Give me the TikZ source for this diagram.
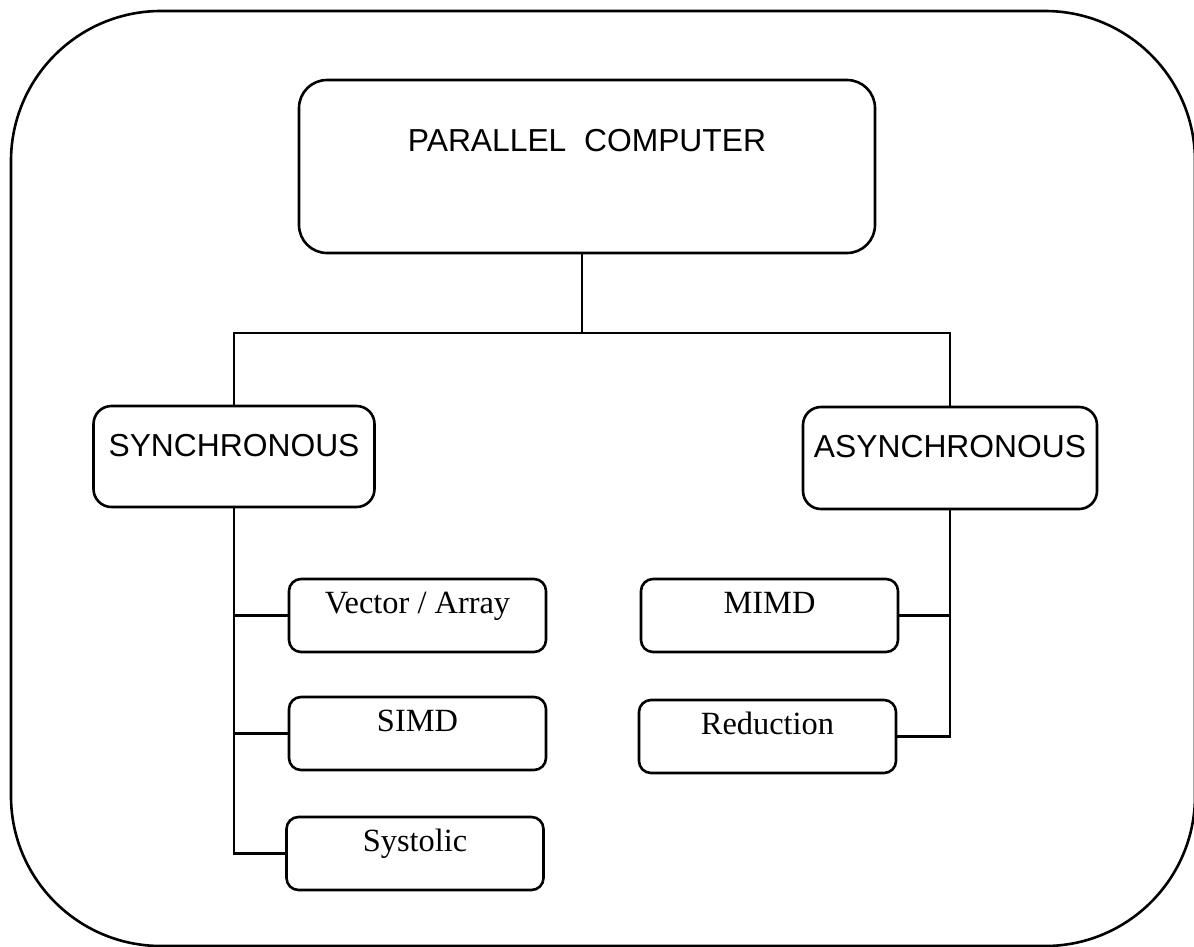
\documentclass[tikz,border=0pt]{standalone}
\usepackage{fontspec}
\setmainfont{Liberation Serif}
\setsansfont{Liberation Sans}

\begin{document}
\begin{tikzpicture}[x=1pt, y=-1pt, line width=2.6pt]
    % Marco exterior
    \useasboundingbox (0,0) rectangle (1194,946);
    \clip (0,0) rectangle (1194,946);
    \draw[rounded corners=150pt] (11,11) rectangle (1195,946);

    % Definir estilo para las cajas
    \tikzset{
      box/.style={
        draw, rounded corners=18pt, inner sep=0pt,
        font=\sffamily\fontsize{31.8}{38}\selectfont
      },
      subbox/.style={
        draw, rounded corners=12pt, inner sep=0pt, minimum width=257pt,
        text height=34pt, text depth=39pt,
        font=\rmfamily\fontsize{32.4}{38}\selectfont
      }
    }

    % Cajas principales
    \node[box, rounded corners=28pt, minimum width=576pt, text height=71pt, text depth=102pt] (pc) at (587,166.5) {PARALLEL\ \ COMPUTER};
    \node[box, minimum width=281pt, text height=50pt, text depth=51pt] (sync) at (234,456.5) {SYNCHRONOUS};
    \node[box, minimum width=294pt, text height=50pt, text depth=52pt] (async) at (950,458) {ASYNCHRONOUS};

    % Subcajas
    \node[subbox] (vector) at (417.5,615.5) {Vector / Array};
    \node[subbox] (simd) at (417.5,733.5) {SIMD};
    \node[subbox] (systolic) at (415,853.5) {Systolic};
    \node[subbox] (mimd) at (769.5,615.5) {MIMD};
    \node[subbox] (reduction) at (767.5,736.5) {Reduction};

    % Conexiones
    \coordinate (jn) at (582,333);
    \draw (jn |- pc.south) -- (jn);
    \draw (sync.north) |- (async.north |- jn) -- (async.north);
    \draw (sync.south) |- (systolic.west);
    \draw (sync.south |- vector.west) -- (vector.west);
    \draw (sync.south |- simd.west) -- (simd.west);
    \draw (async.south) |- (reduction.east);
    \draw (async.south |- mimd.east) -- (mimd.east);
\end{tikzpicture}
\end{document}
